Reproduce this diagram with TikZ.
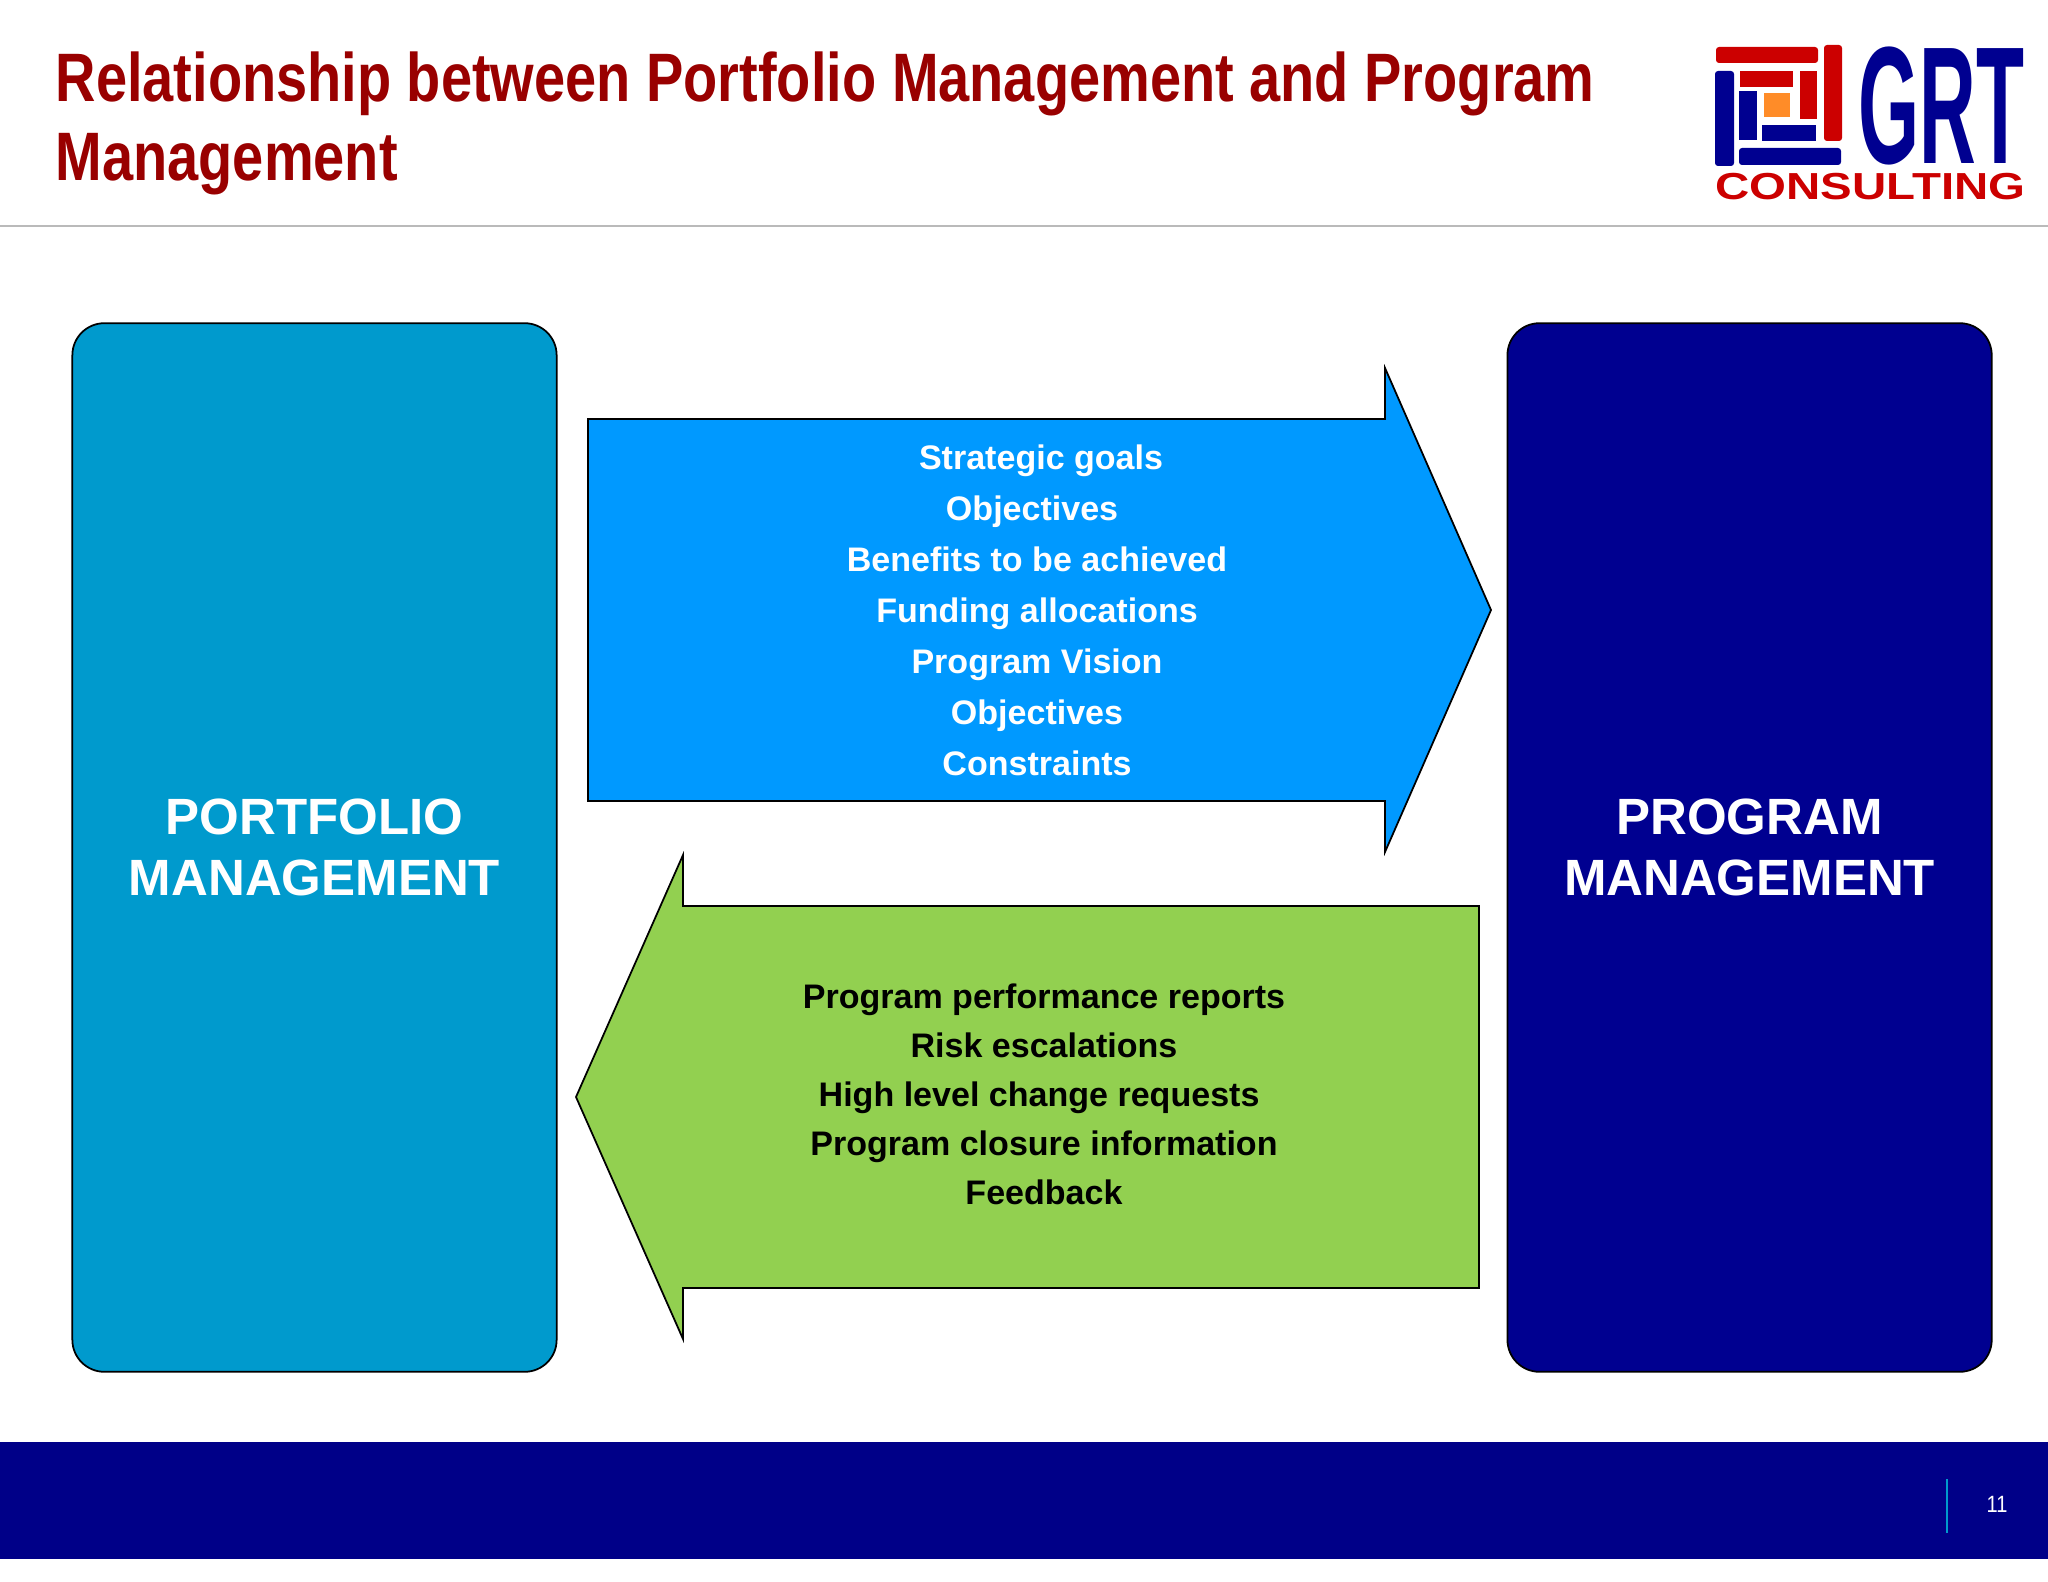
\documentclass[tikz,border=0pt]{standalone}
\usepackage{fontspec}
\setmainfont{Liberation Sans}
\newfontfamily\titlefont[FakeStretch=0.816]{Liberation Sans}
\newfontfamily\grtfont[FakeStretch=0.47]{Liberation Sans}
\newfontfamily\consultfont[FakeStretch=1.26]{Liberation Sans}
\newfontfamily\pagefont[FakeStretch=0.85]{Liberation Sans}
\usepackage{tikz}
\usetikzlibrary{positioning}
\usepackage{xcolor}
\definecolor{grtred}{RGB}{153,0,0}
\definecolor{logored}{RGB}{204,0,0}
\definecolor{grtnavy}{RGB}{0,0,144}
\definecolor{footnavy}{RGB}{0,0,136}
\definecolor{grtcyan}{RGB}{0,154,205}
\definecolor{grtblue}{RGB}{0,153,255}
\definecolor{grtgreen}{RGB}{146,208,80}
\definecolor{grtorange}{RGB}{255,140,40}
\tikzstyle{mainbox} = [rectangle, rounded corners=0.32cm, minimum width=4.84cm, minimum height=10.48cm, align=center, draw=black, line width=0.5pt, text=white, font=\bfseries\fontsize{14.5}{17.5}\selectfont]
\tikzstyle{flow} = [draw=black, line width=0.5pt, miter limit=10]
\tikzstyle{flowtext} = [inner sep=0pt, font=\bfseries\fontsize{9.68}{14.5}\selectfont]
\tikzstyle{logobar} = [rounded corners=0.03cm]
\begin{document}
\begin{tikzpicture}[x=0.01cm, y=-0.01cm]
\useasboundingbox (0,0) rectangle (2048,1582);
% Header
\node (title) [anchor=north west, align=left, inner sep=0pt, text=grtred, font=\titlefont\bfseries\fontsize{19.5}{22.6}\selectfont] at (55,51) {Relationship between Portfolio Management and Program\\Management};
\draw[color=black!27, line width=0.85pt] (0,226) -- (2048,226);

% Logo
\fill[logobar, logored] (1716,47) rectangle (1818,63);
\fill[logobar, logored] (1824,45) rectangle (1842,141);
\fill[logobar, grtnavy] (1715,71) rectangle (1734,166);
\fill[logobar, grtnavy] (1739,148) rectangle (1841,165);
\fill[logored] (1740,71) rectangle (1793,87);
\fill[logored] (1800,71) rectangle (1817,119);
\fill[grtnavy] (1739,91) rectangle (1757,140);
\fill[grtnavy] (1762,125) rectangle (1816,141);
\fill[grtorange] (1764,93) rectangle (1790,117);
\node (grt) [anchor=base east, inner sep=0pt, text=grtnavy, font=\grtfont\bfseries\fontsize{47.5}{48}\selectfont] at (2025,164) {GRT};
\node (consulting) [anchor=base east, inner sep=0pt, text=logored, font=\consultfont\bfseries\fontsize{10.7}{11}\selectfont] at (2026,200) {CONSULTING};

% Side boxes
\node (portfolio) [mainbox, fill=grtcyan] at (314.5,847.5) {PORTFOLIO\\MANAGEMENT};
\node (program) [mainbox, fill=grtnavy, right=9.485cm of portfolio] {PROGRAM\\MANAGEMENT};

% Arrows between them
\draw[flow, fill=grtblue] (588,419) -- (1385,419) -- (1385,368) -- (1491,610) -- (1385,852) -- (1385,801) -- (588,801) -- cycle;
\node (goals) [flowtext, text=white] at (1037,612) {
\begin{tabular}{@{}c@{}}
\hspace*{2.3pt}Strategic goals\\
Objectives\hspace*{2.8pt}\\
Benefits to be achieved\\
Funding allocations\\
Program Vision\\
Objectives\\
Constraints
\end{tabular}
};

\draw[flow, fill=grtgreen] (1479,906) -- (683,906) -- (683,855) -- (576,1097) -- (683,1339) -- (683,1288) -- (1479,1288) -- cycle;
\node (reports) [flowtext, text=black, font=\bfseries\fontsize{9.68}{13.9}\selectfont] at (1044,1096.5) {
\begin{tabular}{@{}c@{}}
Program performance reports\\
Risk escalations\\
High level change requests\hspace*{2.8pt}\\
Program closure information\\
Feedback
\end{tabular}
};

% Footer
\fill[footnavy] (0,1442) rectangle (2048,1559);
\coordinate (markt) at (1947,1479);
\coordinate (markb) at (1947,1533);
\draw[color=grtcyan, line width=0.6pt] (markt) -- (markb);
\node (pagenum) [text=white, inner sep=0pt, font=\pagefont\fontsize{6.7}{8}\selectfont] at (1997,1504) {11};
\end{tikzpicture}
\end{document}
